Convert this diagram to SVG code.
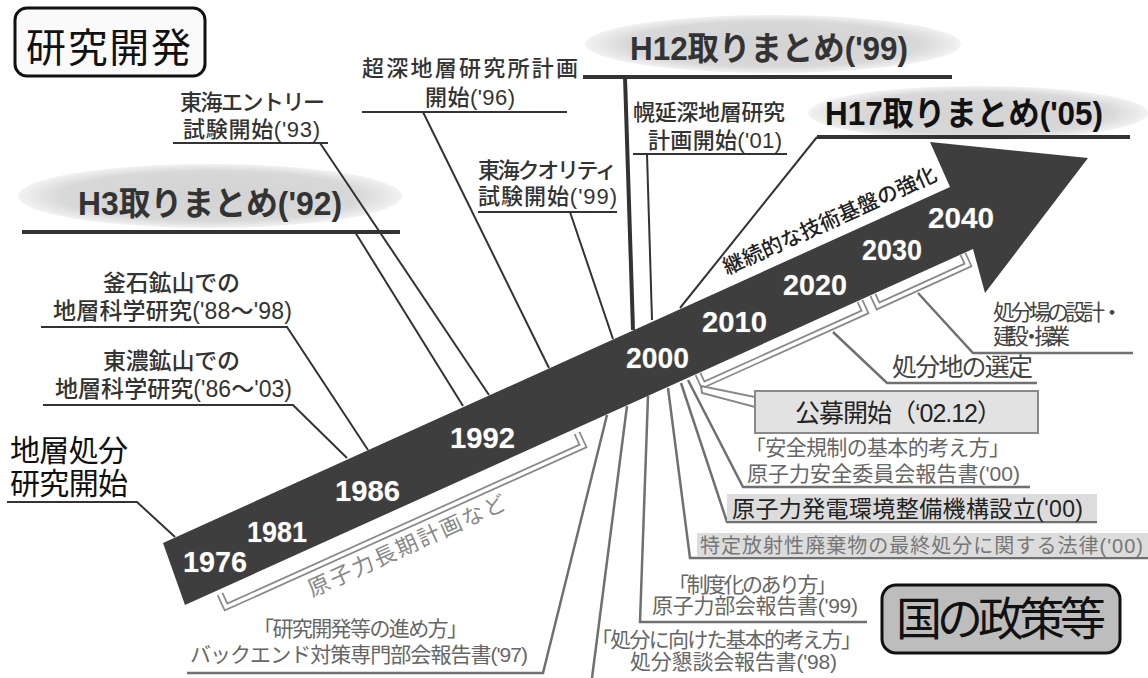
<svg xmlns="http://www.w3.org/2000/svg" width="1148" height="678" viewBox="0 0 1148 678">
<defs>
<radialGradient id="ell" cx="50%" cy="50%" r="50%">
<stop offset="0" stop-color="#d3d3d3"/>
<stop offset="0.78" stop-color="#d8d8d8"/>
<stop offset="1" stop-color="#f2f2f2"/>
</radialGradient>
<style>
text{font-family:"Liberation Sans","Noto Sans CJK JP",sans-serif}
.lbl{font-size:22px;fill:#333;font-weight:500}
.big{font-size:23px;fill:#333;font-weight:500}
.pol{font-size:21px;fill:#666}
.head{font-size:33px;font-weight:bold;fill:#333}
.yr{font-size:29px;font-weight:bold;fill:#fff;stroke:#555;stroke-width:1.2;paint-order:stroke}
.ld{stroke:#333;stroke-width:2;fill:none}
.ldt{stroke:#333;stroke-width:4;fill:none}
.ldg{stroke:#707070;stroke-width:2.5;fill:none}
.brk{fill:none;stroke:#8a8a8a;stroke-width:7;stroke-linejoin:miter}
.brkw{fill:none;stroke:#fff;stroke-width:3.5;stroke-linejoin:miter}
</style>
</defs>
<rect width="1148" height="678" fill="#fff"/>

<g id="ellipses">
<ellipse cx="210" cy="196" rx="192" ry="32" fill="url(#ell)"/>
<ellipse cx="773" cy="44" rx="188" ry="29" fill="url(#ell)"/>
<ellipse cx="978" cy="113" rx="170" ry="27" fill="url(#ell)"/>
</g>

<g id="arrow">
<polygon points="163,543 950,187 930,142 1088,158 985,293 973,249 185,605" fill="#3e3e3e"/>
<text transform="translate(727,275) rotate(-24.3)" font-size="21" font-weight="500" fill="#222" textLength="232" lengthAdjust="spacing">継続的な技術基盤の強化</text>
</g>

<g id="years">
<text class="yr" x="183" y="572" textLength="64" lengthAdjust="spacingAndGlyphs">1976</text>
<text class="yr" x="247" y="542" textLength="60" lengthAdjust="spacingAndGlyphs">1981</text>
<text class="yr" x="335" y="501" textLength="65" lengthAdjust="spacingAndGlyphs">1986</text>
<text class="yr" x="450" y="448" textLength="65" lengthAdjust="spacingAndGlyphs">1992</text>
<text class="yr" x="626" y="368" textLength="63" lengthAdjust="spacingAndGlyphs">2000</text>
<text class="yr" x="702" y="332" textLength="65" lengthAdjust="spacingAndGlyphs">2010</text>
<text class="yr" x="783" y="295" textLength="64" lengthAdjust="spacingAndGlyphs">2020</text>
<text class="yr" x="862" y="260" textLength="60" lengthAdjust="spacingAndGlyphs">2030</text>
<text class="yr" x="928" y="228" textLength="66" lengthAdjust="spacingAndGlyphs">2040</text>
</g>

<g id="brackets">
<path class="brk" d="M220,594 L226,607 L583,446 L577,433"/>
<path class="brkw" d="M220,594 L226,607 L583,446 L577,433"/>
<path class="brk" d="M698,374 L703,385 L865,312 L860,301"/>
<path class="brkw" d="M698,374 L703,385 L865,312 L860,301"/>
<path class="brk" d="M873,295 L878,306 L968,265 L963,254"/>
<path class="brkw" d="M873,295 L878,306 L968,265 L963,254"/>
<text transform="translate(312,597) rotate(-24.3)" font-size="22" fill="#888" textLength="215" lengthAdjust="spacing">原子力長期計画など</text>
</g>

<g id="connectors">
<polyline class="ld" points="7,502 137,502 175,537"/>
<polyline class="ld" points="43,405 293,405 347,458"/>
<polyline class="ld" points="41,327 287,327 368,450"/>
<line class="ldt" x1="22" y1="232" x2="400" y2="232"/>
<line class="ld" x1="355" y1="232" x2="463" y2="406" stroke-width="3"/>
<polyline class="ld" points="173,143 328,143"/>
<line class="ld" x1="320" y1="143" x2="489" y2="395"/>
<line class="ld" x1="362" y1="112" x2="567" y2="112"/>
<line class="ld" x1="423" y1="112" x2="549" y2="368"/>
<line class="ld" x1="478" y1="212" x2="617" y2="212"/>
<line class="ld" x1="570" y1="212" x2="613" y2="339"/>
<line class="ldt" x1="583" y1="77" x2="952" y2="77"/>
<line class="ldt" x1="625" y1="77" x2="633" y2="330"/>
<line class="ld" x1="633" y1="154" x2="787" y2="154"/>
<line class="ld" x1="647" y1="154" x2="652" y2="320"/>
<line class="ldt" x1="817" y1="137" x2="1130" y2="137"/>
<line class="ld" x1="817" y1="137" x2="680" y2="308" stroke-width="3"/>
<polyline class="ldg" points="688,380 743,487 1030,487"/>
<polyline class="ldg" points="681,383 727,522 1097,522"/>
<polyline class="ldg" points="668,388 690,558 1148,558"/>
<polyline class="ldg" points="648,396 640,622 867,622"/>
<line class="ldg" x1="627" y1="406" x2="592" y2="678"/>
<polyline class="ldg" points="607,415 543,673 187,673"/>
<polygon points="701,386 755,397 755,407 702,393" fill="#fff" stroke="#888" stroke-width="2"/>
<polyline class="ldg" points="833,332 887,383 1037,383"/>
<polyline class="ldg" points="918,293 973,353 1133,353"/>
</g>

<g id="n-kenkyu">
<rect x="15" y="8" width="190" height="68" rx="12" fill="#fafafa" stroke="#111" stroke-width="3"/>
<text x="26" y="62" font-size="40" fill="#111" textLength="165" lengthAdjust="spacing">研究開発</text>
</g>
<g id="n-h3">
<text class="head" x="78" y="215" textLength="264" lengthAdjust="spacingAndGlyphs">H3取りまとめ('92)</text>
</g>
<g id="n-h12">
<text class="head" x="630" y="60" textLength="278" lengthAdjust="spacingAndGlyphs">H12取りまとめ('99)</text>
</g>
<g id="n-h17">
<text class="head" x="825" y="125" style="fill:#111" textLength="278" lengthAdjust="spacingAndGlyphs">H17取りまとめ('05)</text>
</g>
<g id="n-tokai-entry">
<text class="lbl" x="180" y="110" textLength="145" lengthAdjust="spacing">東海エントリー</text>
<text class="lbl" x="183" y="137" textLength="137" lengthAdjust="spacing">試験開始('93)</text>
</g>
<g id="n-choshin">
<text class="lbl" x="362" y="76" textLength="216" lengthAdjust="spacing">超深地層研究所計画</text>
<text class="lbl" x="425" y="105" textLength="90" lengthAdjust="spacing">開始('96)</text>
</g>
<g id="n-horonobe">
<text class="lbl" x="633" y="120" textLength="152" lengthAdjust="spacing">幌延深地層研究</text>
<text class="lbl" x="648" y="148" textLength="134" lengthAdjust="spacing">計画開始('01)</text>
</g>
<g id="n-tokai-quality">
<text class="lbl" x="478" y="178" textLength="139" lengthAdjust="spacing">東海クオリティ</text>
<text class="lbl" x="478" y="204" textLength="139" lengthAdjust="spacing">試験開始('99)</text>
</g>
<g id="n-kamaishi">
<text class="big" x="103" y="291" textLength="137" lengthAdjust="spacing">釜石鉱山での</text>
<text class="big" x="53" y="319" textLength="239" lengthAdjust="spacing">地層科学研究('88～'98)</text>
</g>
<g id="n-tono">
<text class="big" x="103" y="369" textLength="137" lengthAdjust="spacing">東濃鉱山での</text>
<text class="big" x="55" y="397" textLength="237" lengthAdjust="spacing">地層科学研究('86～'03)</text>
</g>
<g id="n-start">
<text x="10" y="461" font-size="30" fill="#111" textLength="118" lengthAdjust="spacing">地層処分</text>
<text x="10" y="494" font-size="30" fill="#111" textLength="118" lengthAdjust="spacing">研究開始</text>
</g>

<g id="n-kokunoseisaku">
<rect x="882" y="585" width="238" height="68" rx="14" fill="#bdbdbd" stroke="#111" stroke-width="3"/>
<text x="896" y="635" font-size="46" fill="#111" textLength="210" lengthAdjust="spacing">国の政策等</text>
</g>
<g id="n-koubo">
<rect x="755" y="391" width="283" height="42" fill="#e2e2e2" stroke="#8a8a8a" stroke-width="2"/>
<text x="795" y="422" font-size="25" fill="#222" textLength="207" lengthAdjust="spacing">公募開始（‘02.12）</text>
</g>
<g id="n-senteii">
<text x="892" y="376" font-size="25" fill="#444" textLength="141" lengthAdjust="spacing">処分地の選定</text>
</g>
<g id="n-shobunjo">
<text class="lbl" x="993" y="320" style="fill:#444;font-weight:400" textLength="130" lengthAdjust="spacing">処分場の設計・</text>
<text class="lbl" x="993" y="344" style="fill:#444;font-weight:400" textLength="77" lengthAdjust="spacing">建設・操業</text>
</g>
<g id="n-anzen">
<text class="pol" x="745" y="455" textLength="265" lengthAdjust="spacing">「安全規制の基本的考え方」</text>
<text class="pol" x="747" y="481" textLength="273" lengthAdjust="spacing">原子力安全委員会報告書('00)</text>
</g>
<g id="n-numo">
<rect x="727" y="494" width="370" height="27" fill="#dcdcdc"/>
<text x="732" y="517" font-size="23" fill="#222" textLength="351" lengthAdjust="spacing">原子力発電環境整備機構設立('00)</text>
</g>
<g id="n-houritsu">
<rect x="697" y="533" width="451" height="24" fill="#dcdcdc"/>
<text class="pol" x="700" y="553" style="fill:#777;font-size:20px" textLength="443" lengthAdjust="spacing">特定放射性廃棄物の最終処分に関する法律('00)</text>
</g>
<g id="n-seidoka">
<text class="pol" x="668" y="592" textLength="169" lengthAdjust="spacing">「制度化のあり方」</text>
<text class="pol" x="652" y="613" textLength="206" lengthAdjust="spacing">原子力部会報告書('99)</text>
</g>
<g id="n-shobun-kihon">
<text class="pol" x="591" y="647" textLength="271" lengthAdjust="spacing">「処分に向けた基本的考え方」</text>
<text class="pol" x="630" y="669" textLength="207" lengthAdjust="spacing">処分懇談会報告書('98)</text>
</g>
<g id="n-backend">
<text class="pol" x="253" y="636" textLength="215" lengthAdjust="spacing">「研究開発等の進め方」</text>
<text class="pol" x="190" y="662" textLength="338" lengthAdjust="spacing">バックエンド対策専門部会報告書('97)</text>
</g>
</svg>
